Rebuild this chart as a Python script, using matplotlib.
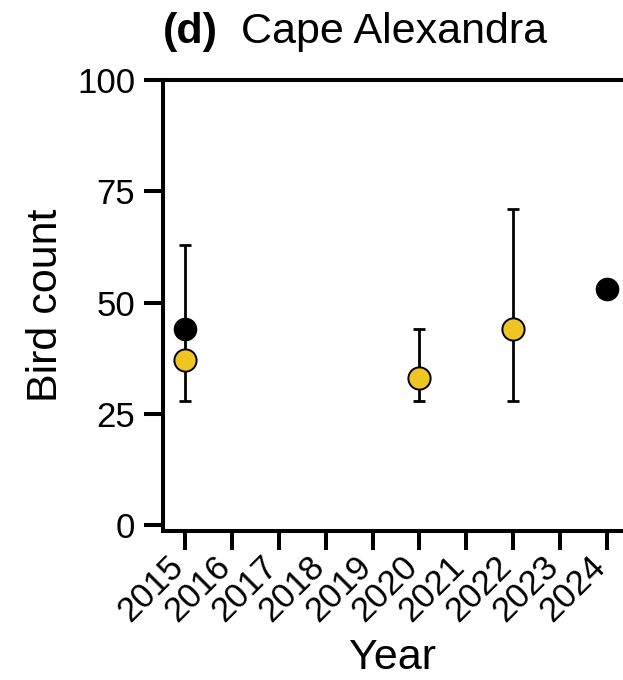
import matplotlib
matplotlib.use("Agg")
import matplotlib.pyplot as plt
from matplotlib.transforms import offset_copy

plt.rcParams['font.family'] = ['Liberation Sans', 'DejaVu Sans']

years = [2015, 2016, 2017, 2018, 2019, 2020, 2021, 2022, 2023, 2024]
tick_labels = [str(y) for y in years]

# black series (single counts)
black_years = [2015, 2024]
black_vals = [44, 53]

# yellow series (central value with range)
yellow_years = [2015, 2020, 2022]
yellow_vals = [37, 33, 44]
yellow_low = [28, 28, 28]
yellow_high = [63, 44, 71]

fig = plt.figure(figsize=(6.23, 6.8), dpi=100)
ax = fig.add_axes([163/623, 149/680, 1 - 163/623, (531-80)/680])

lw = 2.9
yerr = [[v - l for v, l in zip(yellow_vals, yellow_low)],
        [h - v for v, h in zip(yellow_vals, yellow_high)]]
ax.errorbar(yellow_years, yellow_vals, yerr=yerr, fmt='none', ecolor='black',
            elinewidth=2.0, capsize=4, capthick=2.0, zorder=2)
ax.plot(black_years, black_vals, 'o', color='black', markersize=16,
        markeredgecolor='black', markeredgewidth=1, zorder=3)
ax.plot(yellow_years, yellow_vals, 'o', color='#EFC524', markersize=16,
        markeredgecolor='black', markeredgewidth=1.4, zorder=4)

ax.set_xlim(2014.53, 2024.34)
ax.set_ylim(-1.3, 99.4)
ax.set_yticks([0, 25, 50, 75, 100])
ax.set_xticks(years)
ax.set_xticklabels(tick_labels, rotation=45, ha='right', va='baseline',
                   rotation_mode='anchor', fontsize=25)

for s in ['left', 'bottom', 'top']:
    ax.spines[s].set_linewidth(lw)
ax.spines['right'].set_visible(False)
ax.tick_params(axis='both', length=14, width=lw, direction='out')
ax.tick_params(axis='y', pad=6, labelsize=25)
ax.tick_params(axis='x', pad=13)

ax.set_ylabel('Bird count', fontsize=31, labelpad=8)
ax.set_xlabel('Year', fontsize=31, labelpad=7)

ax.text(0, 1, '(d)', transform=offset_copy(ax.transAxes, fig=fig, x=0, y=27, units='points'),
        fontsize=31, fontweight='bold', ha='left', va='baseline')
ax.text(0, 1, 'Cape Alexandra', transform=offset_copy(ax.transAxes, fig=fig, x=56, y=27, units='points'),
        fontsize=31, ha='left', va='baseline')

fig.savefig('out.png', dpi=100)
